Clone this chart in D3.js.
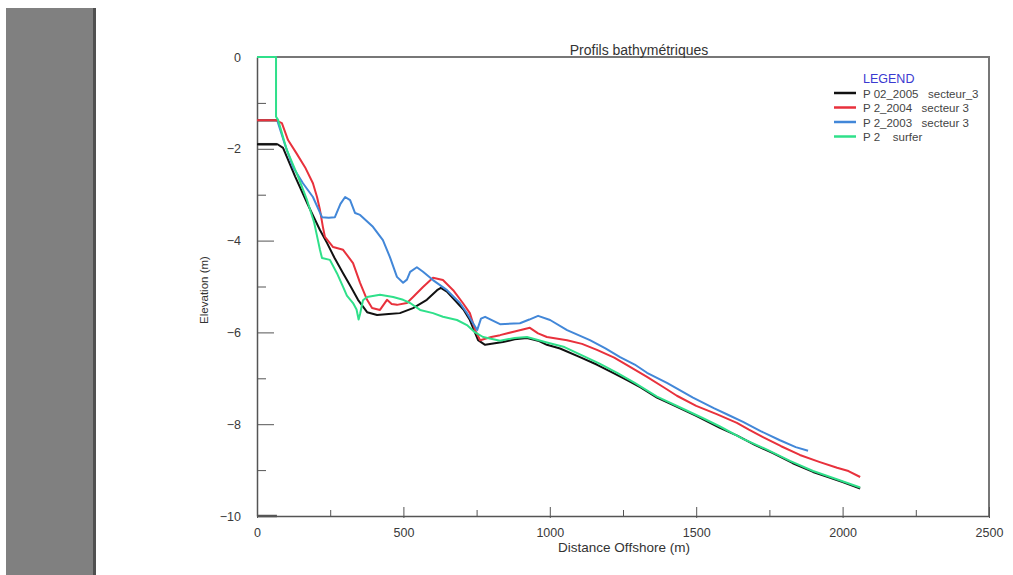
<!DOCTYPE html>
<html>
<head>
<meta charset="utf-8">
<script src="https://cdn.jsdelivr.net/npm/d3@7"></script>
<style>
  body { margin: 0; background: #fff; }
  svg { display: block; font-family: "Liberation Sans", Arial, sans-serif; }
  .axis text { font-size: 12.5px; fill: #3a3a3a; }
  .axis path, .axis line { stroke: #555; }
</style>
</head>
<body>
<svg width="1013" height="575"></svg>
<script>
// series: [distance (m), elevation (m)]
const p2005 = [[0,-1.9],[70,-1.9],[89,-1.98],[130,-2.6],[174,-3.22],[215,-3.77],[239,-4.05],[265,-4.38],[294,-4.71],[320,-5.0],[345,-5.29],[376,-5.56],[410,-5.62],[450,-5.6],[488,-5.58],[533,-5.47],[580,-5.29],[615,-5.08],[628,-5.03],[650,-5.12],[676,-5.3],[705,-5.5],[727,-5.73],[755,-6.17],[779,-6.27],[840,-6.21],[880,-6.15],[922,-6.12],[960,-6.18],[990,-6.27],[1035,-6.35],[1103,-6.54],[1160,-6.7],[1216,-6.88],[1264,-7.04],[1310,-7.2],[1366,-7.42],[1420,-7.58],[1500,-7.82],[1581,-8.08],[1640,-8.25],[1700,-8.45],[1762,-8.63],[1830,-8.85],[1899,-9.04],[1950,-9.15],[2000,-9.26],[2060,-9.4]];
const p2004 = [[0,-1.38],[65,-1.38],[85,-1.44],[106,-1.81],[135,-2.1],[164,-2.4],[191,-2.75],[205,-3.05],[215,-3.33],[225,-3.7],[232,-3.92],[260,-4.14],[294,-4.2],[328,-4.49],[352,-4.92],[376,-5.29],[393,-5.47],[420,-5.51],[444,-5.29],[460,-5.38],[478,-5.4],[512,-5.36],[533,-5.23],[567,-5.01],[601,-4.81],[635,-4.86],[670,-5.08],[703,-5.36],[727,-5.58],[745,-5.95],[762,-6.17],[800,-6.1],[830,-6.06],[880,-5.98],[932,-5.9],[960,-6.02],[990,-6.1],[1059,-6.17],[1110,-6.25],[1161,-6.38],[1220,-6.55],[1274,-6.75],[1332,-6.97],[1390,-7.2],[1434,-7.38],[1500,-7.6],[1570,-7.78],[1639,-7.97],[1680,-8.12],[1728,-8.28],[1790,-8.48],[1854,-8.67],[1920,-8.82],[1981,-8.95],[2020,-9.02],[2060,-9.15]];
const p2003 = [[70,-1.4],[95,-1.9],[123,-2.4],[157,-2.75],[191,-3.05],[222,-3.49],[245,-3.5],[266,-3.49],[285,-3.2],[301,-3.05],[318,-3.12],[335,-3.4],[352,-3.44],[396,-3.7],[430,-3.99],[454,-4.36],[478,-4.79],[499,-4.92],[512,-4.85],[523,-4.68],[546,-4.58],[567,-4.68],[601,-4.86],[649,-5.08],[693,-5.36],[717,-5.58],[738,-5.8],[752,-5.95],[765,-5.7],[779,-5.66],[830,-5.82],[898,-5.8],[930,-5.72],[960,-5.64],[1001,-5.73],[1059,-5.95],[1137,-6.17],[1190,-6.35],[1240,-6.54],[1290,-6.7],[1332,-6.88],[1400,-7.1],[1489,-7.42],[1560,-7.65],[1610,-7.8],[1660,-7.95],[1720,-8.15],[1786,-8.35],[1840,-8.5],[1882,-8.58]];
const surfer = [[0,0],[65,0],[65,-1.3],[72,-1.37],[102,-2.03],[140,-2.6],[171,-3.12],[195,-3.6],[208,-3.99],[215,-4.2],[222,-4.38],[249,-4.42],[273,-4.71],[294,-5.01],[307,-5.2],[328,-5.36],[340,-5.5],[347,-5.72],[352,-5.6],[362,-5.3],[376,-5.23],[420,-5.18],[465,-5.23],[499,-5.29],[523,-5.36],[557,-5.51],[601,-5.58],[635,-5.66],[683,-5.73],[717,-5.84],[745,-6.0],[772,-6.1],[830,-6.18],[880,-6.12],[922,-6.1],[990,-6.22],[1050,-6.32],[1110,-6.5],[1170,-6.68],[1230,-6.88],[1290,-7.1],[1366,-7.4],[1440,-7.62],[1520,-7.86],[1581,-8.05],[1660,-8.32],[1740,-8.55],[1820,-8.8],[1899,-9.02],[1980,-9.2],[2060,-9.38]];
// short grey stubs at the shore end
const stubLevels = [-1.38, -1.9, -10];
const stubEnd = 68;

const names = ["P 02_2005   secteur_3", "P 2_2004   secteur 3", "P 2_2003   secteur 3", "P 2    surfer"];
const colors = ["#111111", "#e8313c", "#4287d8", "#2fe08a"];
const xTicks = [0, 500, 1000, 1500, 2000, 2500];
const xMinor = [250, 750, 1250, 1750, 2250];
const yTicks = [0, -2, -4, -6, -8, -10];
const yMinor = [-1, -3, -5, -7, -9];

const svg = d3.select("svg");
const mLeft = 257, mRight = 989, mTop = 57, mBottom = 516;

// grey side panel
svg.append("rect").attr("x", 6).attr("y", 8).attr("width", 88).attr("height", 567).attr("fill", "#808080");
svg.append("rect").attr("x", 93).attr("y", 8).attr("width", 3).attr("height", 567).attr("fill", "#505050");

const x = d3.scaleLinear().domain([0, 2500]).range([mLeft, mRight]);
const y = d3.scaleLinear().domain([-10, 0]).range([mBottom, mTop]);

// frame top/right
svg.append("path")
  .attr("d", `M${mLeft},${mTop}H${mRight}V${mBottom}`)
  .attr("fill", "none").attr("stroke", "#777").attr("stroke-width", 2);

const gx = svg.append("g").attr("class", "axis").attr("transform", `translate(0,${mBottom})`)
  .call(d3.axisBottom(x).tickValues(xTicks).tickSize(-9).tickSizeOuter(0).tickPadding(12).tickFormat(d3.format("d")));
svg.append("g").attr("class", "axis").attr("transform", `translate(0,${mBottom})`)
  .call(d3.axisBottom(x).tickValues(xMinor).tickSize(-6).tickSizeOuter(0).tickFormat(""))
  .select(".domain").remove();
gx.selectAll(".tick line").attr("y2", -9).attr("y1", 2);

const gy = svg.append("g").attr("class", "axis").attr("transform", `translate(${mLeft},0)`)
  .call(d3.axisLeft(y).tickValues(yTicks).tickSize(-17).tickSizeOuter(0).tickPadding(16));
svg.append("g").attr("class", "axis").attr("transform", `translate(${mLeft},0)`)
  .call(d3.axisLeft(y).tickValues(yMinor).tickSize(-9).tickSizeOuter(0).tickFormat(""))
  .select(".domain").remove();
svg.selectAll(".axis .domain").attr("stroke-width", 1.5);

// stubs
svg.append("g").selectAll("line").data(stubLevels).join("line")
  .attr("x1", x(0)).attr("x2", x(stubEnd))
  .attr("y1", d => y(d)).attr("y2", d => y(d))
  .attr("stroke", "#555").attr("stroke-width", 2.5);

const line = d3.line().x(d => x(d[0])).y(d => y(d[1]));
const series = [p2005, p2004, p2003, surfer];
svg.append("g").selectAll("path").data(series).join("path")
  .attr("d", line)
  .attr("fill", "none")
  .attr("stroke", (d, i) => colors[i])
  .attr("stroke-width", 2)
  .attr("stroke-linejoin", "round");

// titles
svg.append("text").attr("x", 639).attr("y", 55).attr("text-anchor", "middle")
  .attr("font-size", 14).attr("fill", "#333").text("Profils bathymétriques");
svg.append("text").attr("x", 624).attr("y", 552).attr("text-anchor", "middle")
  .attr("font-size", 13.5).attr("fill", "#333").text("Distance Offshore (m)");
svg.append("text").attr("transform", "translate(208,290) rotate(-90)").attr("text-anchor", "middle")
  .attr("font-size", 11.5).attr("fill", "#333").text("Elevation (m)");

// legend
const lg = svg.append("g").attr("transform", "translate(834,78)");
lg.append("text").attr("x", 29).attr("y", 4.5).attr("font-size", 12.5).attr("fill", "#3a3ad0").text("LEGEND");
const row = lg.selectAll("g.row").data(names).join("g").attr("class", "row")
  .attr("transform", (d, i) => `translate(0,${15 + i * 14.5})`);
row.append("line").attr("x1", 0).attr("x2", 22).attr("stroke", (d, i) => colors[i]).attr("stroke-width", 2.5);
row.append("text").attr("x", 29).attr("y", 4.5).attr("font-size", 11.5).attr("fill", "#444")
  .attr("xml:space", "preserve").style("white-space", "pre").text(d => d);
</script>
</body>
</html>
